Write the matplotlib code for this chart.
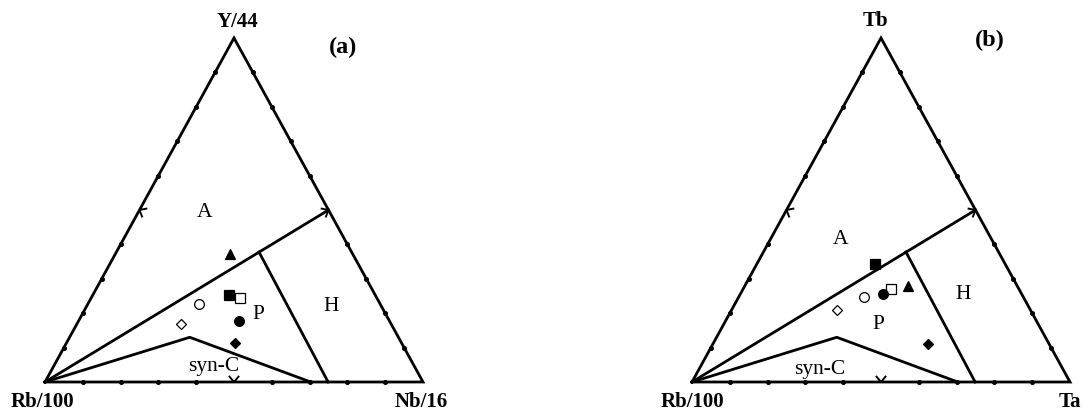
import numpy as np
import matplotlib
matplotlib.use("Agg")
import matplotlib.pyplot as plt

W, H = 1083, 414
plt.rcParams['font.family'] = ['Liberation Serif', 'DejaVu Serif']

# ---- data (ternary percentages: left vertex, top vertex, right vertex) ----
labels_a = ["Rb/100", "Y/44", "Nb/16"]
labels_b = ["Rb/100", "Tb", "Ta"]
markers = ["^", "s", "s", "o", "D", "o", "D"]
filled = [True, True, False, False, False, True, True]

rb_a = [32.5, 38.7, 36.3, 47.8, 55.6, 39.8, 44.0]
y_a = [37.2, 25.4, 24.3, 22.7, 16.9, 17.8, 11.3]
nb_a = [30.3, 35.9, 39.4, 29.5, 27.5, 42.4, 44.7]

rb_b = [28.8, 34.5, 33.9, 42.1, 51.2, 36.6, 32.0]
tb_b = [28.0, 34.3, 27.0, 24.6, 21.0, 25.6, 11.0]
ta_b = [43.2, 31.2, 39.1, 33.3, 27.8, 37.8, 57.0]

# field boundaries (cartesian fractions of triangle width / height)
bnd_AP = [(0.0, 0.0), (0.75, 0.5)]
bnd_PH = [(0.566, 0.378), (0.749, 0.0)]
bnd_syn = [(0.0, 0.0), (0.383, 0.13), (0.703, 0.0)]


def tern(left, top, right):
    s = np.asarray(left) + np.asarray(top) + np.asarray(right)
    t = np.asarray(top) / s
    r = np.asarray(right) / s
    return r + t / 2.0, t


def panel(x0, rb, tp, rt, regions):
    # axes covering the triangle's bounding box: (0,0)=left vertex, (1,1)=top
    ax = fig.add_axes([x0 / W, (H - 383) / H, 378 / W, 344 / H])
    ax.set_xlim(0, 1)
    ax.set_ylim(0, 1)
    ax.axis("off")
    pw, ph = 378.0, 344.0
    lw = 2.0
    ax.plot([0, 1, 0.5, 0], [0, 0, 1, 0], color="black", lw=lw,
            clip_on=False, solid_joinstyle="miter")
    for seg in (bnd_AP, bnd_PH, bnd_syn):
        xs, ys = zip(*seg)
        ax.plot(xs, ys, color="black", lw=lw, clip_on=False)
    # ticks: dots each 10 %, chevron at 50 %
    sides = [((0, 0), (1, 0)), ((1, 0), (0.5, 1)), ((0.5, 1), (0, 0))]
    for (ax0, ay0), (ax1, ay1) in sides:
        for k in range(1, 10):
            f = k / 10
            px, py = ax0 + f * (ax1 - ax0), ay0 + f * (ay1 - ay0)
            if k != 5:
                ax.plot(px, py, "o", ms=2.6, color="black", clip_on=False)
            else:
                dx, dy = (ax1 - ax0) * pw, (ay1 - ay0) * ph
                L = np.hypot(dx, dy)
                dx, dy = dx / L, dy / L
                nx, ny = -dy, dx  # inward normal (counter-clockwise order)
                a = np.deg2rad(40)
                arm = 7.0
                pts = []
                for sgn in (-1, 1):
                    vx = nx * np.cos(a) + sgn * dx * np.sin(a)
                    vy = ny * np.cos(a) + sgn * dy * np.sin(a)
                    pts.append((px + arm * vx / pw, py + arm * vy / ph))
                ax.plot([pts[0][0], px, pts[1][0]], [pts[0][1], py, pts[1][1]],
                        color="black", lw=1.4, clip_on=False)
    # data points
    xs, ys = tern(rb, tp, rt)
    for x, y, m, f in zip(xs, ys, markers, filled):
        ms = {"^": 7.8, "s": 7.2, "o": 7.0, "D": 5.4}[m]
        ax.plot(x, y, m, ms=ms, mfc="black" if f else "white",
                mec="black", mew=0.9, clip_on=False, zorder=5)
    for txt, (tx, ty) in regions.items():
        ax.text((tx - x0) / pw, (383 - ty) / ph, txt, fontsize=15.5,
                ha="center", va="center")
    return ax


fig = plt.figure(figsize=(W / 100, H / 100), dpi=100)
fig.patch.set_facecolor("white")

panel(45, rb_a, y_a, nb_a,
      {"A": (205, 213), "P": (258, 315), "H": (331, 307), "syn-C": (214, 367)})
panel(692, rb_b, tb_b, ta_b,
      {"A": (841, 240), "P": (878, 325), "H": (963, 295), "syn-C": (820, 370)})


def ftext(x, y, s, ha="center", size=15):
    fig.text(x / W, 1 - y / H, s, ha=ha, va="center", fontsize=size,
             fontweight="bold")


ftext(237, 22, labels_a[1])
ftext(42, 402, labels_a[0])
ftext(395, 402, labels_a[2], ha="left")
ftext(343, 47, "(a)", size=17.5)
ftext(875, 21, labels_b[1])
ftext(692, 402, labels_b[0])
ftext(1059, 402, labels_b[2], ha="left")
ftext(990, 40, "(b)", size=17.5)

fig.savefig("out.png", dpi=100, facecolor="white")
